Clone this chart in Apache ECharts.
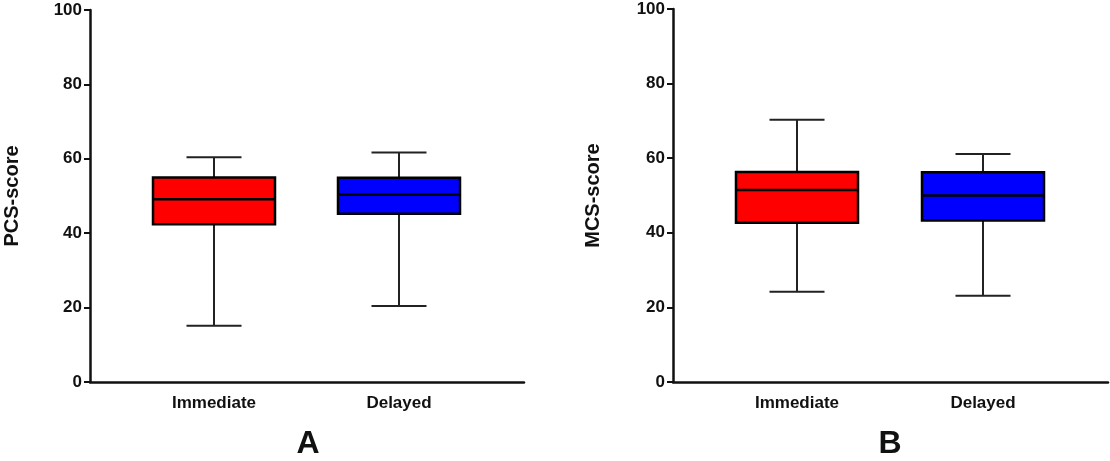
<!DOCTYPE html>
<html>
<head>
<meta charset="utf-8">
<script src="https://cdn.jsdelivr.net/npm/echarts@6/dist/echarts.min.js"></script>
<style>
    html,body{margin:0;padding:0;background:#fff}
    #chart{width:1110px;height:461px}
</style>
</head>
<body>
<div id="chart"></div>
<script>
/** 数据 */
let groups = ["Immediate","Delayed"]
let groupColors = ["#ff0000","#0000ff"]
let yTicks = [0,20,40,60,80,100]

// PCS (A)
let pcsMin = [15.1,20.4]
let pcsQ1 = [42.4,45.2]
let pcsMed = [49.1,50.4]
let pcsQ3 = [55.0,54.9]
let pcsMax = [60.4,61.7]

// MCS (B)
let mcsMin = [24.2,23.1]
let mcsQ1 = [42.7,43.3]
let mcsMed = [51.5,50.0]
let mcsQ3 = [56.3,56.2]
let mcsMax = [70.3,61.1]

let FONT = "'Liberation Sans', Arial, sans-serif"
let chart = echarts.init(document.getElementById("chart"))

/** 外框坐标轴 */
function frameAxes(gridIndex,name,gap){
    let x = {
        type:"value",gridIndex:gridIndex,min:0,max:1,
        axisLine:{show:true,lineStyle:{color:"#111",width:2.5}},
        axisTick:{show:false},axisLabel:{show:false},splitLine:{show:false}
    }
    let y = {
        type:"value",gridIndex:gridIndex,min:yTicks[0],max:yTicks[yTicks.length-1],interval:20,
        name:name,nameLocation:"middle",nameGap:gap,
        nameTextStyle:{fontFamily:FONT,fontWeight:"bold",fontSize:20,color:"#111"},
        axisLine:{show:true,lineStyle:{color:"#111",width:2.5}},
        axisTick:{show:true,length:6,lineStyle:{color:"#111",width:2}},
        axisLabel:{fontFamily:FONT,fontWeight:"bold",fontSize:17,color:"#111",margin:8},
        splitLine:{show:false}
    }
    return [x,y]
}

/** 箱体坐标轴 (showLabel: 是否显示分类名) */
function boxAxes(gridIndex,showLabel){
    let x = {
        type:"category",gridIndex:gridIndex,data:groups,
        axisLine:{show:false},axisTick:{show:false},splitLine:{show:false},
        axisLabel:{show:showLabel,fontFamily:FONT,fontWeight:"bold",fontSize:17,color:"#111",margin:13}
    }
    let y = {
        type:"value",gridIndex:gridIndex,min:0,max:100,show:false,splitLine:{show:false}
    }
    return [x,y]
}

/** 须线(短帽) */
function whiskerSeries(axisIndex,mn,md,mx){
    return {
        type:"boxplot",xAxisIndex:axisIndex,yAxisIndex:axisIndex,
        boxWidth:[55,55],silent:true,z:1,
        itemStyle:{color:"#fff",borderColor:"#222",borderWidth:2},
        data:groups.map((g,i)=>[mn[i],md[i],md[i],md[i],mx[i]])
    }
}
/** 箱体 */
function bodySeries(axisIndex,q1,md,q3){
    return {
        type:"boxplot",xAxisIndex:axisIndex,yAxisIndex:axisIndex,
        boxWidth:[122,122],silent:true,z:2,
        data:groups.map((g,i)=>({
            value:[q1[i],q1[i],md[i],q3[i],q3[i]],
            itemStyle:{color:groupColors[i],borderColor:"#000",borderWidth:2.5}
        }))
    }
}

let a1 = frameAxes(0,"PCS-score",68)
let a2 = boxAxes(1,true)
let a3 = boxAxes(2,false)
let b1 = frameAxes(3,"MCS-score",70)
let b2 = boxAxes(4,true)
let b3 = boxAxes(5,false)

let option = {
    animation:false,
    backgroundColor:"#fff",
    grid:[
        {left:90,right:586,top:10,bottom:79},
        {left:121.5,right:618.5,top:10,bottom:79},
        {left:121.5,right:618.5,top:10,bottom:79},
        {left:673,right:2,top:9,bottom:79},
        {left:704,right:34,top:9,bottom:79},
        {left:704,right:34,top:9,bottom:79}
    ],
    xAxis:[a1[0],a2[0],a3[0],b1[0],b2[0],b3[0]],
    yAxis:[a1[1],a2[1],a3[1],b1[1],b2[1],b3[1]],
    series:[
        whiskerSeries(2,pcsMin,pcsMed,pcsMax),
        bodySeries(1,pcsQ1,pcsMed,pcsQ3),
        whiskerSeries(5,mcsMin,mcsMed,mcsMax),
        bodySeries(4,mcsQ1,mcsMed,mcsQ3)
    ],
    graphic:[
        {type:"text",x:308,y:444,style:{text:"A",font:"bold 32px "+FONT,fill:"#111",align:"center",verticalAlign:"middle"}},
        {type:"text",x:890,y:444,style:{text:"B",font:"bold 32px "+FONT,fill:"#111",align:"center",verticalAlign:"middle"}}
    ]
}
chart.setOption(option)
</script>
</body>
</html>
